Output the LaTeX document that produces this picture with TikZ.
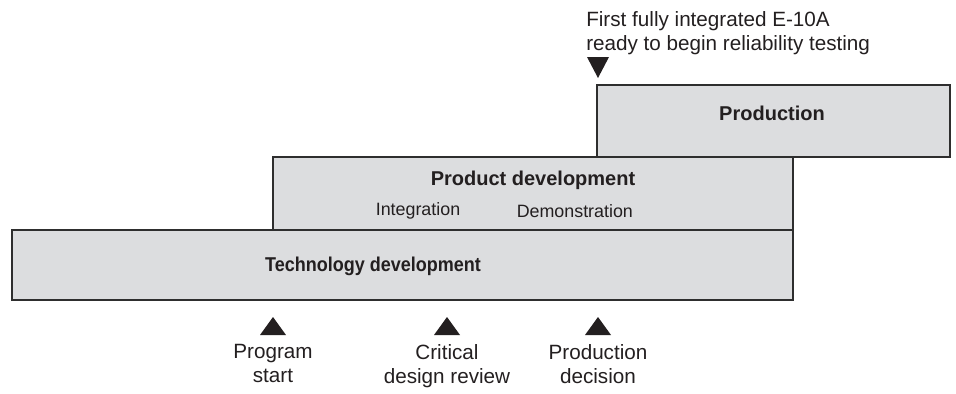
\documentclass[tikz,border=0pt]{standalone}
\usepackage{fontspec}
\setmainfont{Liberation Sans}
\usetikzlibrary{positioning}
\definecolor{phasegray}{HTML}{DCDDDF}
\definecolor{edgegray}{HTML}{2E2E2E}
\definecolor{inkblack}{HTML}{231F20}
\tikzset{
  phase/.style={draw=edgegray,fill=phasegray,line width=1.8pt},
  milestone/.style={fill=inkblack},
  phasetitle/.style={font=\bfseries\fontsize{15}{18}\selectfont,text=inkblack,inner sep=0pt},
  subphase/.style={font=\fontsize{13.4}{16}\selectfont,text=inkblack,inner sep=0pt},
  note/.style={font=\fontsize{15.5}{18}\selectfont,text=inkblack,inner sep=0pt}
}

\begin{document}
\begin{tikzpicture}[x=0.75pt,y=-0.75pt]
\useasboundingbox (0,0) rectangle (956,393);

% phases
\draw[phase] (273,157) rectangle (793,230);
\draw[phase] (597,85) rectangle (950,157);
\draw[phase] (12,230) rectangle (793,300);

\node[phasetitle] (prod) at (772,113) {Production};
\node[phasetitle] (pdev) at (533,180) {Product development};
\node[subphase] (integ) at (418,211) {Integration};
\node[subphase,right=42pt of integ.east,anchor=west] (demo) {Demonstration};
\node[phasetitle] (tdev) at (373,266) {\scalebox{0.9}[1]{Technology development}};

% milestones below
\foreach \x/\name/\txt in {273/pstart/{Program\\start},447/cdr/{Critical\\design review},598/pdec/{Production\\decision}}{
  \fill[milestone] (\x-13,335) -- (\x+13,335) -- (\x,317) -- cycle;
  \node[note,align=center,anchor=north] (\name) at (\x,344) {\txt};
}

% first integrated unit
\fill[milestone] (587,57) -- (609,57) -- (598,78) -- cycle;
\node[note,align=left,anchor=north west] (first) at (586,11)
  {First fully integrated E-10A\\ready to begin reliability testing};
\end{tikzpicture}
\end{document}
